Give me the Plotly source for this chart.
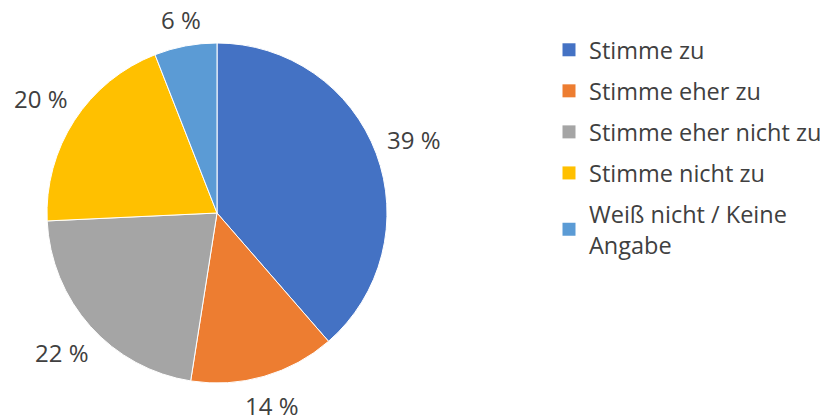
import math
import plotly.graph_objects as go

categories = ["Stimme zu", "Stimme eher zu", "Stimme eher nicht zu", "Stimme nicht zu", "Weiß nicht / Keine Angabe"]
legend_text = ["Stimme zu", "Stimme eher zu", "Stimme eher nicht zu", "Stimme nicht zu", "Weiß nicht / Keine<br>Angabe"]
shares = [39, 14, 22, 20, 6]
labels_txt = ["39 %", "14 %", "22 %", "20 %", "6 %"]
colors = ["#4472C4", "#ED7D31", "#A5A5A5", "#FFC000", "#5B9BD5"]

OFF = 8  # page body margin
W, H = 828 - OFF, 418 - OFF
cx, cy, R = 217 - OFF, 213 - OFF, 170
FONT = "Open Sans"
TXT = "#404040"
FS = 24
LFS = 23.5

fig = go.Figure()
fig.add_trace(go.Pie(
    labels=categories, values=shares, sort=False, direction="clockwise", rotation=0,
    marker=dict(colors=colors, line=dict(color="white", width=1)),
    textinfo="none", hoverinfo="label+percent", showlegend=False,
    domain=dict(x=[(cx - R) / W, (cx + R) / W], y=[(H - cy - R) / H, (H - cy + R) / H]),
))

for i, (name, c) in enumerate(zip(legend_text, colors)):
    fig.add_trace(go.Scatter(
        x=[None], y=[None], mode="markers", name=name, legendgroup="g%d" % i,
        marker=dict(symbol="square", size=13, color=c), hoverinfo="skip",
    ))

total = sum(shares)
cum = 0
anns = []
for v, t in zip(shares, labels_txt):
    mid = (cum + v / 2) / total * 2 * math.pi
    cum += v
    ux, uy = math.sin(mid), math.cos(mid)
    w = 13.7 * sum(ch.isdigit() for ch in t) + 6.2 + 19.7
    h = 24
    ext = abs(ux) * w / 2 + abs(uy) * h / 2
    r = R + 11 + ext
    px = cx + r * ux
    py = cy - r * uy
    anns.append(dict(x=px / W, y=(H - py) / H, xref="paper", yref="paper", text=t,
                     showarrow=False, xanchor="center", yanchor="middle",
                     font=dict(family=FONT, size=FS, color=TXT)))

fig.update_layout(
    width=W, height=H, margin=dict(l=0, r=0, t=0, b=0),
    paper_bgcolor="white", plot_bgcolor="white",
    font=dict(family=FONT, size=FS, color=TXT),
    annotations=anns,
    xaxis=dict(visible=False), yaxis=dict(visible=False),
    legend=dict(x=(549 - OFF) / W, y=(H - (28 - OFF)) / H, xanchor="left", yanchor="top",
                font=dict(family=FONT, size=LFS, color=TXT), tracegroupgap=7.5,
                itemclick=False, itemdoubleclick=False, bgcolor="rgba(0,0,0,0)"),
    showlegend=True,
)
fig.write_html("out.html")
